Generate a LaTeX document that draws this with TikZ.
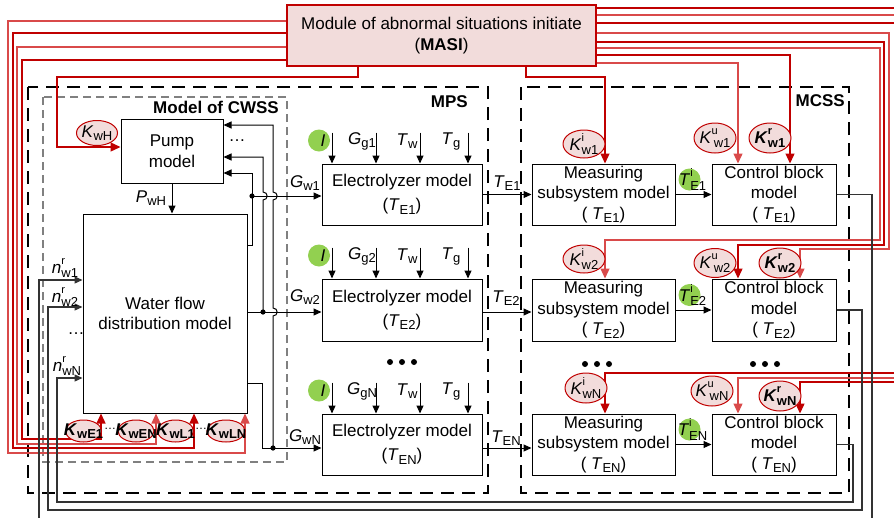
\documentclass[tikz,border=0pt]{standalone}
\usepackage{fontspec}
\setmainfont{Liberation Sans}
\usetikzlibrary{arrows.meta,calc,shapes.geometric}
\definecolor{dred}{HTML}{C00000}
\definecolor{lred}{HTML}{D94A4A}
\definecolor{pinkf}{HTML}{F2DCDB}
\definecolor{grn}{HTML}{92D050}
\definecolor{dgray}{HTML}{808080}
\newcommand{\lsb}[1]{\raisebox{-0.35ex}{\fontsize{13}{13}\selectfont #1}}
\newcommand{\lsup}[2]{\rlap{\raisebox{1.0ex}{\fontsize{11}{11}\selectfont #1}}\raisebox{-0.45ex}{\fontsize{13}{13}\selectfont #2}}
\begin{document}
\begin{tikzpicture}[x=1pt,y=-1pt,
  txt/.style={font=\fontsize{17}{20.5}\selectfont, inner sep=0pt},
  box/.style={draw, line width=1pt, fill=white, align=center, inner sep=0pt, font=\fontsize{17}{20.5}\selectfont},
  arr/.style={-{Triangle[length=8pt,width=7pt]}, line width=1pt},
  retl/.style={-{Triangle[length=8pt,width=7pt]}, line width=1.2pt, black!80},
  rline/.style={dred, line width=1.3pt, -{Triangle[length=10pt,width=9pt]}},
  rlinetwo/.style={lred, line width=1.3pt, -{Triangle[length=10pt,width=9pt]}},
  kell/.style={ellipse, draw=dred, fill=pinkf, line width=1pt, inner sep=0pt},
  gcirc/.style={circle, fill=grn, inner sep=0pt, minimum size=22pt},
  bigdash/.style={line width=2.2pt, dash pattern=on 13pt off 8pt},
  graydash/.style={dgray, line width=1.8pt, dash pattern=on 8pt off 5pt},
  boxlabel/.style={font=\fontsize{17}{20}\selectfont\bfseries, inner sep=0pt}
]
\useasboundingbox (0,0) rectangle (894,517);
\clip (0,0) rectangle (894,517);

% dashed frames
\draw[bigdash] (28,87) rectangle (488,493);
\draw[bigdash] (521,87) rectangle (849,493);
\draw[graydash] (43,97) rectangle (287,462);
\node[boxlabel, anchor=east] (lcwss) at (279,107) {Model of CWSS};
\node[boxlabel, anchor=east] (lmps) at (468,102) {MPS};
\node[boxlabel, anchor=east] (lmcss) at (845,101) {MCSS};

% boxes
\node[box, minimum width=309pt, minimum height=61pt, fill=pinkf, draw=dred, line width=1.5pt] (masi) at (441.5,35.5) {Module of abnormal situations initiate\\(\textbf{MASI})};
\node[box, minimum width=102pt, minimum height=64pt] (pump) at (172,151) {Pump\\model};
\node[box, minimum width=164pt, minimum height=199pt] (water) at (165,313.5) {Water flow\\distribution model};

\node[box, font=\fontsize{17}{24}\selectfont, minimum width=160pt, minimum height=61pt] (E1) at (402,194.5) {Electrolyzer model\\(\textit{T}\lsb{E1})};
\node[box, font=\fontsize{17}{24}\selectfont, minimum width=160pt, minimum height=62pt] (E2) at (402,310) {Electrolyzer model\\(\textit{T}\lsb{E2})};
\node[box, font=\fontsize{17}{24}\selectfont, minimum width=160pt, minimum height=61pt] (EN) at (402,444.5) {Electrolyzer model\\(\textit{T}\lsb{EN})};

\node[box, minimum width=143pt, minimum height=61pt] (M1) at (603.5,194.5) {Measuring\\subsystem model\\( \textit{T}\lsb{E1})};
\node[box, minimum width=143pt, minimum height=62pt] (M2) at (603.5,310) {Measuring\\subsystem model\\( \textit{T}\lsb{E2})};
\node[box, minimum width=143pt, minimum height=61pt] (MN) at (603.5,444.5) {Measuring\\subsystem model\\( \textit{T}\lsb{EN})};

\node[box, minimum width=124pt, minimum height=61pt] (C1) at (774,194.5) {Control block\\model\\( \textit{T}\lsb{E1})};
\node[box, minimum width=124pt, minimum height=62pt] (C2) at (774,310) {Control block\\model\\( \textit{T}\lsb{E2})};
\node[box, minimum width=124pt, minimum height=61pt] (CN) at (774,444.5) {Control block\\model\\( \textit{T}\lsb{EN})};

% red connectors, left
\draw[rlinetwo] (masi.west |- 0,21) -| (8,453) -| (water.south -| 245,0);
\draw[rline] (masi.west |- 0,33) -| (13,448) -| (water.south -| 194,0);
\draw[rlinetwo] (masi.west |- 0,47) -| (17,444) -| (water.south -| 156,0);
\draw[rline] (masi.west |- 0,60) -| (22,439) -| (water.south -| 101,0);
\draw[rline] (masi.south -| 358,0) -- (358,77) -| (57,147) -- (pump.west |- 0,147);

% red connectors, right
\draw[rline] (masi.south -| 526,0) -- (526,77) -| (M1.north -| 605,0);
\draw[rlinetwo] (masi.east |- 0,63) -| (C1.north -| 738,0);
\draw[rline] (masi.east |- 0,55) -| (C1.north -| 790,0);
\draw[rlinetwo] (masi.east |- 0,48) -| (880,240) -| (M2.north -| 605,0);
\draw[rline] (masi.east |- 0,42) -| (884,245) -| (C2.north -| 738,0);
\draw[rlinetwo] (masi.east |- 0,33) -| (889,249) -| (C2.north -| 800,0);
\draw[rline] (masi.east |- 0,23) -| (900,373) -| (MN.north -| 605,0);
\draw[rlinetwo] (masi.east |- 0,15) -| (905,378) -| (CN.north -| 738,0);
\draw[rline] (masi.east |- 0,8) -| (910,382) -| (CN.north -| 800,0);

% water outputs and pump feedback
\coordinate (j1) at (252,196);
\coordinate (j2) at (263,312);
\coordinate (j3) at (273,448);
\draw[line width=1pt] (water.east |- 0,245) -| (j1);
\draw[arr] (j1) -- (E1.west |- j1);
\draw[arr] (j1) |- (pump.east |- 0,173);
\draw[line width=1pt] (water.east |- j2) -- (j2);
\draw[arr] (j2) -- (E2.west |- j2);
\draw[arr] (j2) -- (263,200) .. controls (268.5,200) and (268.5,192) .. (263,192) |- (pump.east |- 0,157);
\draw[line width=1pt] (water.east |- 0,383) -| (262,448) -- (j3);
\draw[arr] (j3) -- (EN.west |- j3);
\draw[arr] (j3) -- (273,316) .. controls (278.5,316) and (278.5,308) .. (273,308) -- (273,200) .. controls (278.5,200) and (278.5,192) .. (273,192) |- (pump.east |- 0,125);
\foreach \j in {j1,j2,j3} \fill (\j) circle[radius=2.6pt];
\draw[arr] (pump.south) -- (water.north -| pump.south);

% chain arrows
\draw[arr] (E1.east) -- (M1.west);
\draw[arr] (E2.east |- 0,312) -- (M2.west |- 0,312);
\draw[arr] (EN.east |- 0,448) -- (MN.west |- 0,448);
\foreach \m/\c/\s in {M1/C1/1, M2/C2/2, MN/CN/N} {
  \draw[arr] (\m.east) -- (\c.west);
  \node[gcirc] (gT\s) at ($(\m.east)!0.5!(\c.west)+(-4,-15)$) {};
  \node[txt] (tT\s) at ($(gT\s)+(3,0)$) {\textit{T}\lsup{i}{E\s}};
}

% feedback return lines
\draw[retl] (C1.east) -| (872,530) -| (39,280) -- (water.west |- 0,280);
\draw[retl] (C2.east) -| (862,510) -| (48,307) -- (water.west |- 0,307);
\draw[retl] (CN.east) -| (853,502) -| (57,378) -- (water.west |- 0,378);

% electrolyzer inputs
\foreach \e/\s in {E1/1,E2/2,EN/N} {
  \draw[arr] ([xshift=-70pt,yshift=31pt]\e.north) -- ([xshift=-70pt]\e.north);
  \draw[arr] ([xshift=-26pt,yshift=31pt]\e.north) -- ([xshift=-26pt]\e.north);
  \draw[arr] ([xshift=18pt,yshift=31pt]\e.north) -- ([xshift=18pt]\e.north);
  \draw[arr] ([xshift=66pt,yshift=31pt]\e.north) -- ([xshift=66pt]\e.north);
  \node[gcirc] (gI\s) at ([xshift=-83pt,yshift=23pt]\e.north) {};
  \node[txt] (tI\s) at ([xshift=-79pt,yshift=23pt]\e.north) {\textit{I}};
  \node[txt] (tG\s) at ([xshift=-40pt,yshift=22pt]\e.north) {\textit{G}\lsb{g\s}};
  \node[txt] (tTw\s) at ([xshift=5pt,yshift=22pt]\e.north) {\textit{T}\lsb{w}};
  \node[txt] (tTg\s) at ([xshift=49pt,yshift=22pt]\e.north) {\textit{T}\lsb{g}};
}

% labels
\node[txt] (lpwh) at (151,198) {\textit{P}\lsb{wH}};
\node[txt] (lnr1) at (65,268) {\textit{n}\lsup{r}{w1}};
\node[txt] (lnr2) at (65,297) {\textit{n}\lsup{r}{w2}};
\node[txt] (ldw) at (76,334) {\dots};
\node[txt] (lnrN) at (67,366) {\textit{n}\lsup{r}{wN}};
\node[txt] (lpd) at (237,141) {\dots};
\node[txt] (lgw1) at (305,183) {\textit{G}\lsb{w1}};
\node[txt] (lgw2) at (305,297) {\textit{G}\lsb{w2}};
\node[txt] (lgwN) at (305,437) {\textit{G}\lsb{wN}};
\node[txt] (lte1) at (507,183) {\textit{T}\lsb{E1}};
\node[txt] (lte2) at (506,298) {\textit{T}\lsb{E2}};
\node[txt] (lteN) at (506,438) {\textit{T}\lsb{EN}};

% bullets
\foreach \x/\y in {390/362,402/362,414/362,585/364,597/364,609/364,753/364,765/364,777/364}
  \fill (\x,\y) circle[radius=3pt];

% K ellipses
\node[kell, minimum width=41pt, minimum height=25pt] (kwh) at (97,133) {};
\node[txt] (kwht) at (kwh) {\textit{K}\lsb{wH}};

\node[kell, minimum width=36pt, minimum height=22pt] (kwe1) at (83.5,431) {};
\node[txt] (kwe1t) at (kwe1) {\textbf{\textit{K}\lsb{wE1}}};
\node[kell, minimum width=36pt, minimum height=22pt] (kwen) at (136,431) {};
\node[txt] (kwent) at (kwen) {\textbf{\textit{K}\lsb{wEN}}};
\node[kell, minimum width=36pt, minimum height=22pt] (kwl1) at (175.5,431) {};
\node[txt] (kwl1t) at (kwl1) {\textbf{\textit{K}\lsb{wL1}}};
\node[kell, minimum width=38pt, minimum height=22pt] (kwln) at (226,431) {};
\node[txt] (kwlnt) at (kwln) {\textbf{\textit{K}\lsb{wLN}}};
\node[txt, font=\fontsize{12}{12}\selectfont] (dd1) at (110,429) {\dots};
\node[txt, font=\fontsize{12}{12}\selectfont] (dd2) at (201,429) {\dots};

\node[kell, minimum width=42pt, minimum height=28pt] (ki1) at (584,144) {};
\node[txt] (ki1t) at (ki1) {\textit{K}\lsup{i}{w1}};
\node[kell, minimum width=42pt, minimum height=30pt] (ku1) at (715,138) {};
\node[txt] (ku1t) at (ku1) {\textit{K}\lsup{u}{\,w1}};
\node[kell, minimum width=42pt, minimum height=30pt] (kr1) at (770,138) {};
\node[txt] (kr1t) at (kr1) {\textbf{\textit{K}\lsup{r}{w1}}};

\node[kell, minimum width=42pt, minimum height=28pt] (ki2) at (584,259) {};
\node[txt] (ki2t) at (ki2) {\textit{K}\lsup{i}{w2}};
\node[kell, minimum width=42pt, minimum height=29pt] (ku2) at (715,263) {};
\node[txt] (ku2t) at (ku2) {\textit{K}\lsup{u}{\,w2}};
\node[kell, minimum width=42pt, minimum height=30pt] (kr2) at (780,263) {};
\node[txt] (kr2t) at (kr2) {\textbf{\textit{K}\lsup{r}{w2}}};

\node[kell, minimum width=42pt, minimum height=30pt] (kiN) at (586,388) {};
\node[txt] (kiNt) at (kiN) {\textit{K}\lsup{i}{wN}};
\node[kell, minimum width=42pt, minimum height=30pt] (kuN) at (712,391) {};
\node[txt] (kuNt) at (kuN) {\textit{K}\lsup{u}{\,wN}};
\node[kell, minimum width=42pt, minimum height=30pt] (krN) at (780,396) {};
\node[txt] (krNt) at (krN) {\textbf{\textit{K}\lsup{r}{wN}}};
\end{tikzpicture}
\end{document}
